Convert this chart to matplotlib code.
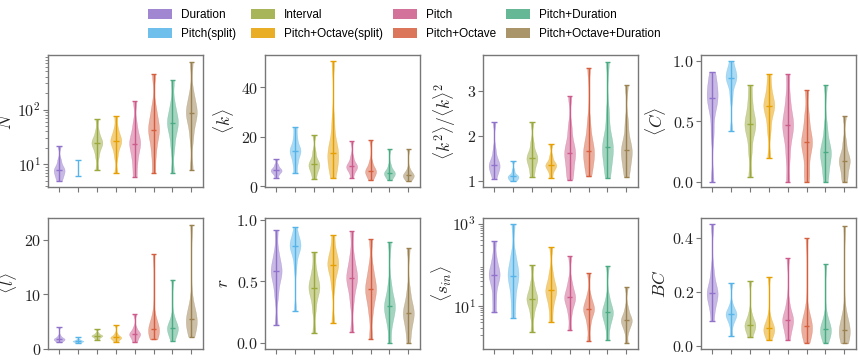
import numpy as np
import matplotlib
matplotlib.use("Agg")
import matplotlib.pyplot as plt
from matplotlib import cbook, mlab
from matplotlib.patches import Patch

plt.rcParams['mathtext.fontset'] = 'cm'
plt.rcParams['font.family'] = ['DejaVu Serif']

categories = ["Duration", "Pitch(split)", "Interval", "Pitch+Octave(split)",
              "Pitch", "Pitch+Octave", "Pitch+Duration", "Pitch+Octave+Duration"]
colors = ["#9172cb", "#56b4e9", "#9aa83c", "#e69f00",
          "#cc5a8a", "#d55e3e", "#4aab83", "#9b8150"]

# Representative values per category (min, p10, p25, p40, median, p60, p75, p90, max)
N_vals = [[5, 5.8, 6.5, 7.3, 7.8, 8.4, 9.5, 12, 21.6],
          [6, 7, 8, 8.3, 8.5, 8.8, 9, 10.5, 11.8],
          [8, 14, 19, 22.5, 24.6, 26.5, 30, 40, 68],
          [6.9, 14, 20, 24, 26.7, 29, 34, 45, 76.6],
          [5.9, 10, 15, 20, 23.9, 28, 35, 55, 142],
          [6.9, 15, 25, 36, 43, 51, 70, 110, 443],
          [6.9, 20, 35, 48, 57, 66, 85, 130, 344],
          [8, 30, 55, 75, 87, 100, 130, 200, 745]]
k_vals = [[3.4, 4.8, 5.6, 6.1, 6.5, 6.9, 7.6, 8.8, 11.1],
          [5.4, 9, 11.5, 13.3, 14.3, 15.3, 17, 20, 23.8],
          [3.1, 5.5, 7, 8.1, 8.8, 9.6, 11, 14, 20.7],
          [3.5, 7, 9.5, 12, 13.5, 15, 18, 26, 50.4],
          [3.5, 5.8, 7, 7.6, 8.1, 8.7, 9.8, 12, 18.2],
          [2.4, 4, 5, 5.7, 6.2, 6.8, 7.8, 10, 18.6],
          [2.4, 3.7, 4.5, 5.0, 5.4, 5.9, 6.6, 8.5, 15.1],
          [2.0, 3.0, 3.7, 4.2, 4.5, 4.9, 5.4, 7, 14.9]]
k2_vals = [[1.05, 1.18, 1.26, 1.32, 1.36, 1.41, 1.5, 1.7, 2.30],
           [1.0, 1.03, 1.06, 1.085, 1.10, 1.12, 1.15, 1.24, 1.44],
           [1.09, 1.25, 1.38, 1.46, 1.51, 1.56, 1.65, 1.85, 2.31],
           [1.07, 1.2, 1.28, 1.32, 1.35, 1.38, 1.43, 1.55, 1.81],
           [1.03, 1.2, 1.38, 1.54, 1.63, 1.72, 1.9, 2.2, 2.88],
           [1.10, 1.3, 1.45, 1.59, 1.67, 1.76, 1.95, 2.3, 3.51],
           [1.07, 1.3, 1.5, 1.66, 1.75, 1.85, 2.05, 2.5, 3.64],
           [1.09, 1.3, 1.45, 1.6, 1.68, 1.77, 1.95, 2.3, 3.12]]
C_vals = [[0.0, 0.4, 0.58, 0.66, 0.69, 0.73, 0.78, 0.85, 0.91],
          [0.42, 0.7, 0.8, 0.84, 0.86, 0.88, 0.9, 0.94, 1.0],
          [0.04, 0.25, 0.38, 0.44, 0.475, 0.51, 0.57, 0.67, 0.80],
          [0.195, 0.42, 0.53, 0.6, 0.625, 0.65, 0.7, 0.78, 0.89],
          [0.0, 0.2, 0.34, 0.42, 0.466, 0.51, 0.58, 0.7, 0.89],
          [0.0, 0.1, 0.22, 0.29, 0.33, 0.37, 0.45, 0.56, 0.757],
          [0.0, 0.08, 0.16, 0.21, 0.243, 0.27, 0.33, 0.45, 0.80],
          [0.0, 0.05, 0.11, 0.15, 0.173, 0.2, 0.24, 0.33, 0.54]]
l_vals = [[1.16, 1.4, 1.6, 1.7, 1.77, 1.85, 2.0, 2.4, 4.0],
          [1.0, 1.15, 1.28, 1.35, 1.4, 1.45, 1.55, 1.75, 2.2],
          [1.6, 1.9, 2.15, 2.3, 2.38, 2.46, 2.6, 2.9, 3.6],
          [1.28, 1.6, 1.85, 1.98, 2.07, 2.18, 2.35, 2.8, 4.3],
          [1.16, 1.7, 2.2, 2.5, 2.7, 2.9, 3.2, 3.9, 6.3],
          [1.7, 2.3, 2.9, 3.3, 3.6, 3.9, 4.5, 6.0, 17.4],
          [1.4, 2.4, 3.1, 3.55, 3.84, 4.1, 4.6, 5.8, 12.7],
          [2.2, 3.3, 4.3, 4.9, 5.37, 5.8, 6.6, 8.5, 22.8]]
r_vals = [[0.143, 0.38, 0.49, 0.55, 0.58, 0.61, 0.66, 0.74, 0.913],
          [0.257, 0.62, 0.73, 0.77, 0.786, 0.8, 0.82, 0.86, 0.94],
          [0.084, 0.27, 0.37, 0.42, 0.449, 0.48, 0.52, 0.6, 0.738],
          [0.165, 0.46, 0.56, 0.61, 0.635, 0.66, 0.7, 0.76, 0.878],
          [0.089, 0.33, 0.44, 0.5, 0.53, 0.56, 0.62, 0.71, 0.908],
          [0.035, 0.24, 0.34, 0.4, 0.438, 0.47, 0.53, 0.62, 0.84],
          [0.0, 0.15, 0.22, 0.27, 0.297, 0.32, 0.37, 0.47, 0.819],
          [0.0, 0.1, 0.17, 0.22, 0.246, 0.27, 0.32, 0.42, 0.77]]
s_vals = [[7.0, 15, 30, 45, 56, 68, 90, 150, 381],
          [5.1, 12, 25, 42, 55, 68, 100, 180, 956],
          [2.35, 6, 10, 13, 15, 17, 22, 35, 100],
          [4.17, 9, 15, 20, 24, 28, 38, 65, 272],
          [2.57, 6.5, 11, 14, 16.2, 18.5, 25, 40, 162],
          [1.45, 3.5, 5.8, 7.4, 8.5, 9.6, 12, 18, 64],
          [1.5, 3.2, 4.8, 6.1, 7.0, 8.0, 10, 16, 96],
          [1.25, 2.5, 3.4, 4.1, 4.5, 5.0, 6, 9, 28.8]]
BC_vals = [[0.091, 0.14, 0.17, 0.186, 0.196, 0.206, 0.23, 0.28, 0.449],
           [0.037, 0.08, 0.1, 0.11, 0.116, 0.122, 0.13, 0.15, 0.233],
           [0.031, 0.05, 0.062, 0.072, 0.078, 0.084, 0.095, 0.12, 0.241],
           [0.023, 0.038, 0.05, 0.058, 0.064, 0.07, 0.08, 0.105, 0.256],
           [0.023, 0.05, 0.075, 0.089, 0.097, 0.105, 0.12, 0.16, 0.324],
           [0.012, 0.035, 0.05, 0.064, 0.073, 0.081, 0.095, 0.13, 0.399],
           [0.012, 0.03, 0.045, 0.055, 0.062, 0.069, 0.08, 0.11, 0.302],
           [0.009, 0.025, 0.04, 0.052, 0.060, 0.068, 0.08, 0.12, 0.443]]

panels = [
    dict(vals=N_vals, label=r'$N$', log=True, ylim=(3.85, 990), lx=-0.21,
         ticks=[10, 100], tl=[r'$10^{1}$', r'$10^{2}$']),
    dict(vals=k_vals, label=r'$\langle k\rangle$', log=False, ylim=(-0.3, 53), lx=-0.19,
         ticks=[0, 20, 40], tl=[r'$0$', r'$20$', r'$40$']),
    dict(vals=k2_vals, label=r'$\langle k^2\rangle/\langle k\rangle^2$', log=False,
         ylim=(0.867, 3.79), lx=-0.16,
         ticks=[1, 2, 3], tl=[r'$1$', r'$2$', r'$3$']),
    dict(vals=C_vals, label=r'$\langle C\rangle$', log=False, ylim=(-0.045, 1.048), lx=-0.215,
         ticks=[0, 0.5, 1.0], tl=[r'$0.0$', r'$0.5$', r'$1.0$']),
    dict(vals=l_vals, label=r'$\langle l\rangle$', log=False, ylim=(-0.06, 24), lx=-0.185,
         ticks=[0, 10, 20], tl=[r'$0$', r'$10$', r'$20$']),
    dict(vals=r_vals, label=r'$r$', log=False, ylim=(-0.05, 1.014), lx=-0.21,
         ticks=[0, 0.5, 1.0], tl=[r'$0.0$', r'$0.5$', r'$1.0$']),
    dict(vals=s_vals, label=r'$\langle s_{in}\rangle$', log=True, ylim=(0.91, 1372), lx=-0.19,
         ticks=[10, 1000], tl=[r'$10^{1}$', r'$10^{3}$']),
    dict(vals=BC_vals, label=r'$BC$', log=False, ylim=(-0.012, 0.473), lx=-0.205,
         ticks=[0, 0.2, 0.4], tl=[r'$0.0$', r'$0.2$', r'$0.4$']),
]

W, H = 859, 362
fig = plt.figure(figsize=(W / 100, H / 100), dpi=100)

lefts = [48, 265, 483, 701]
rows = [(55, 187), (218, 349)]
spine_col = '#777777'
positions = np.arange(1, 9)
bw = 0.3


def make_stats(samples, log):
    data = [np.log10(np.asarray(s, float)) if log else np.asarray(s, float) for s in samples]

    def kde(X, coords):
        return mlab.GaussianKDE(X, bw).evaluate(coords)

    st = cbook.violin_stats(data, kde, points=200)
    if log:
        for s in st:
            for key in ('coords', 'mean', 'median', 'min', 'max'):
                s[key] = 10 ** np.asarray(s[key])
    return st


for i, p in enumerate(panels):
    r, c = divmod(i, 4)
    top, bot = rows[r]
    ax = fig.add_axes([lefts[c] / W, (H - bot) / H, 155 / W, (bot - top) / H])
    if p['log']:
        ax.set_yscale('log')
    st = make_stats(p['vals'], p['log'])
    parts = ax.violin(st, positions=positions, widths=0.58,
                      showextrema=True, showmedians=True)
    for j, (body, col) in enumerate(zip(parts['bodies'], colors)):
        body.set_facecolor(col)
        body.set_edgecolor(col)
        body.set_alpha(0.5)
        body.set_linewidth(0.3)
        if i == 0 and j == 1:
            body.set_alpha(0.0)
    for key in ('cmaxes', 'cmins', 'cbars', 'cmedians'):
        parts[key].set_color(colors)
        parts[key].set_linewidth(1.0)
    if i == 0:
        lw = [1.0] * 8
        lw[1] = 0.0
        parts['cmedians'].set_linewidth(lw)
    ax.set_xlim(0.41, 8.62)
    ax.set_ylim(*p['ylim'])
    ax.set_xticks(positions)
    ax.set_xticklabels([])
    ax.set_yticks(p['ticks'])
    ax.set_yticklabels(p['tl'])
    if p['log']:
        ax.yaxis.set_minor_locator(matplotlib.ticker.LogLocator(base=10, subs=np.arange(2, 10)))
        ax.yaxis.set_minor_formatter(matplotlib.ticker.NullFormatter())
    ax.tick_params(axis='both', colors=spine_col, labelcolor='#222222',
                   labelsize=11.5, length=3.5, width=0.8, pad=1.5)
    ax.tick_params(axis='y', which='minor', colors=spine_col, length=2, width=0.6)
    for sp in ax.spines.values():
        sp.set_color(spine_col)
        sp.set_linewidth(1.0)
    ax.set_ylabel(p['label'], fontsize=12.5, color='#222222')
    ax.yaxis.set_label_coords(p['lx'], 0.5)

handles = [Patch(facecolor=col, edgecolor='none', alpha=0.85) for col in colors]
col_x = [148, 251, 393, 506]
for k, cx in enumerate(col_x):
    fig.legend(handles[2 * k:2 * k + 2], categories[2 * k:2 * k + 2], loc='upper left',
               bbox_to_anchor=(cx / W, 1 - 9 / H), frameon=False,
               prop={'family': 'Liberation Sans', 'size': 8.5},
               handlelength=2.05, handleheight=0.85, handletextpad=0.75,
               labelspacing=0.6, borderpad=0, borderaxespad=0)

fig.savefig('out.png', dpi=100)
